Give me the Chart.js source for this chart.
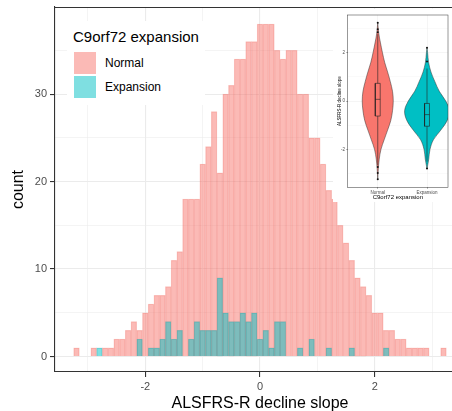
<!DOCTYPE html>
<html>
<head>
<meta charset="utf-8">
<script src="https://cdn.jsdelivr.net/npm/chart.js@4.4.1/dist/chart.umd.min.js"></script>
<style>
  html, body { margin: 0; padding: 0; background: #fff; }
  #wrap { position: relative; width: 452px; height: 411px; overflow: hidden; font-family: 'Liberation Sans', Arial, sans-serif; }
  #main { position: absolute; left: 0; top: 0; }
  #legend { position: absolute; left: 67px; top: 21px; width: 138px; height: 84px; background: #fff; }
  .lg { position: absolute; white-space: nowrap; color: #000; }
  .key { position: absolute; width: 22px; height: 22px; }
  #insetBox { position: absolute; left: 333px; top: 9px; width: 119px; height: 193px; background: #fff; }
</style>
</head>
<body>
<div id="wrap">
  <canvas id="main" width="465" height="420"></canvas>
  <div id="legend"></div>
  <div id="insetBox"><canvas id="inset" width="119" height="193"></canvas></div>
</div>
<script>
'use strict';

// histogram bins (binwidth 0.1), counts per group
const binCenters = [
  -3.2, -3.1, -3.0, -2.9, -2.8, -2.7, -2.6, -2.5, -2.4, -2.3,
  -2.2, -2.1, -2.0, -1.9, -1.8, -1.7, -1.6, -1.5, -1.4, -1.3,
  -1.2, -1.1, -1.0, -0.9, -0.8, -0.7, -0.6, -0.5, -0.4, -0.3,
  -0.2, -0.1, 0.0, 0.1, 0.2, 0.3, 0.4, 0.5, 0.6, 0.7,
  0.8, 0.9, 1.0, 1.1, 1.2, 1.3, 1.4, 1.5, 1.6, 1.7,
  1.8, 1.9, 2.0, 2.1, 2.2, 2.3, 2.4, 2.5, 2.6, 2.7,
  2.8, 2.9, 3.0, 3.1, 3.2
];
const normalCounts = [
  1, 0, 0, 1, 0, 1, 1, 2, 2, 3,
  4, 3, 5, 6, 7, 7, 8, 11, 12, 18,
  18, 18, 22, 24, 28, 21, 30, 31, 34, 34,
  36, 36, 38, 38, 38, 35, 34, 35, 35, 30,
  30, 25, 25, 22, 19, 18, 15, 13, 11, 9,
  8, 7, 5, 5, 3, 3, 2, 2, 1, 1,
  1, 1, 0, 0, 1
];
const expansionCounts = [
  0, 0, 0, 0, 1, 0, 0, 0, 0, 0,
  0, 2, 0, 1, 1, 2, 4, 2, 3, 0,
  2, 4, 3, 3, 3, 9, 5, 4, 4, 5,
  4, 5, 2, 3, 1, 4, 4, 0, 0, 1,
  0, 2, 0, 0, 1, 0, 0, 0, 1, 0,
  0, 0, 0, 0, 1, 0, 0, 0, 0, 0,
  0, 0, 0, 0, 0
];
const groupNames = ['Normal', 'Expansion'];
const xGridValues = [-3, -2, -1, 0, 1, 2, 3];
const xTickLabels = [-2, 0, 2];
const yGridValues = [0, 5, 10, 15, 20, 25, 30, 35];
const yTickLabels = [0, 10, 20, 30];

// inset violin: outline (value, half width) and box stats
const normalViolinY = [3.23, 2.8, 2.4, 2.0, 1.6, 1.2, 0.8, 0.4, 0.0, -0.4, -0.8, -1.2, -1.6, -2.0, -2.4, -2.8, -3.23];
const normalViolinW = [0, 0.02, 0.055, 0.095, 0.14, 0.2, 0.255, 0.3, 0.315, 0.3, 0.265, 0.2, 0.13, 0.065, 0.03, 0.012, 0];
const expansionViolinY = [2.2, 2.0, 1.6, 1.2, 0.8, 0.4, 0.0, -0.4, -0.8, -1.2, -1.6, -2.0, -2.4, -2.8];
const expansionViolinW = [0, 0.012, 0.032, 0.08, 0.16, 0.25, 0.38, 0.455, 0.41, 0.28, 0.13, 0.06, 0.035, 0];
const normalBox = [-2.65, -0.62, 0.07, 0.73, 2.76];   // lower whisker, q1, median, q3, upper whisker
const expansionBox = [-2.5, -1.04, -0.56, -0.1, 1.34];
const normalOutliers = [3.23, 2.96, 2.84, -2.72, -2.97, -3.23];
const expansionOutliers = [2.2, 1.63, -2.78];
const insetYGrid = [-3, -2, -1, 0, 1, 2, 3];
const insetYLabels = [-2, 0, 2];

const pink = '#F8766D';
const teal = '#00BFC4';

Chart.defaults.font.family = "'Liberation Sans', Arial, sans-serif";
Chart.defaults.animation = false;

// ---------- legend (html) ----------
const legend = document.getElementById('legend');
function addText(txt, left, cy, size) {
  const d = document.createElement('div');
  d.className = 'lg';
  d.textContent = txt;
  d.style.left = left + 'px';
  d.style.top = (cy - size * 0.6) + 'px';
  d.style.fontSize = size + 'px';
  d.style.lineHeight = (size * 1.2) + 'px';
  legend.appendChild(d);
}
function addKey(color, top) {
  const k = document.createElement('div');
  k.className = 'key';
  k.style.left = '7px';
  k.style.top = top + 'px';
  k.style.background = color;
  legend.appendChild(k);
}
addText('C9orf72 expansion', 6, 16, 15);
addKey('rgba(248,118,109,0.5)', 31);
addKey('rgba(0,191,196,0.5)', 54.5);
addText(groupNames[0], 38, 42.5, 12);
addText(groupNames[1], 38, 66.5, 12);

// ---------- main histogram ----------
const panelTop = {
  id: 'panelTop',
  afterDraw(chart) {
    const {ctx, chartArea} = chart;
    ctx.save();
    ctx.strokeStyle = '#333';
    ctx.lineWidth = 1.1;
    ctx.beginPath();
    ctx.moveTo(chartArea.left, chartArea.top + 0.5);
    ctx.lineTo(chartArea.right, chartArea.top + 0.5);
    ctx.stroke();
    ctx.restore();
  }
};

function toPoints(counts) {
  return binCenters.map((c, i) => ({x: c, y: counts[i]}));
}

new Chart(document.getElementById('main'), {
  type: 'bar',
  data: {
    datasets: [
      {
        label: groupNames[0],
        data: toPoints(normalCounts),
        backgroundColor: 'rgba(248,118,109,0.5)',
        borderColor: 'rgba(235,105,98,0.3)',
        borderWidth: 0.6,
        grouped: false,
        order: 2,
        barPercentage: 1,
        categoryPercentage: 1
      },
      {
        label: groupNames[1],
        data: toPoints(expansionCounts),
        backgroundColor: 'rgba(0,191,196,0.5)',
        borderColor: 'rgba(0,130,135,0.25)',
        borderWidth: 0.6,
        grouped: false,
        order: 1,
        barPercentage: 1,
        categoryPercentage: 1
      }
    ]
  },
  options: {
    responsive: false,
    layout: {padding: {top: 7, right: 0, left: 0, bottom: 0}},
    plugins: {legend: {display: false}, tooltip: {enabled: false}},
    scales: {
      x: {
        type: 'linear',
        min: -3.575,
        max: 3.575,
        offset: false,
        afterBuildTicks: (s) => { s.ticks = xGridValues.map(v => ({value: v})); },
        afterFit: (s) => { s.height = 48; s.paddingLeft = 0; s.paddingRight = 0; },
        grid: {
          offset: false,
          color: '#EBEBEB',
          lineWidth: (c) => xTickLabels.includes(c.tick && c.tick.value) ? 1.1 : 0.55,
          tickLength: 5,
          tickWidth: 1.1,
          tickColor: (c) => xTickLabels.includes(c.tick && c.tick.value) ? '#333' : 'rgba(0,0,0,0)'
        },
        border: {display: true, color: '#333', width: 1.1},
        ticks: {
          autoSkip: false,
          maxRotation: 0,
          padding: 3,
          color: '#4D4D4D',
          font: {size: 11},
          callback: (v) => xTickLabels.includes(v) ? String(v) : ''
        },
        title: {
          display: true,
          text: 'ALSFRS-R decline slope',
          color: '#000',
          font: {size: 16},
          padding: {top: 0, bottom: 6.4}
        }
      },
      y: {
        min: -1.77,
        max: 39.95,
        afterBuildTicks: (s) => { s.ticks = yGridValues.map(v => ({value: v})); },
        afterFit: (s) => { s.width = 55; s.paddingTop = 0; s.paddingBottom = 0; },
        grid: {
          color: '#EBEBEB',
          lineWidth: (c) => yTickLabels.includes(c.tick && c.tick.value) ? 1.1 : 0.55,
          tickLength: 5,
          tickWidth: 1.1,
          tickColor: (c) => yTickLabels.includes(c.tick && c.tick.value) ? '#333' : 'rgba(0,0,0,0)'
        },
        border: {display: true, color: '#333', width: 1.1},
        ticks: {
          autoSkip: false,
          padding: 3,
          color: '#4D4D4D',
          font: {size: 11},
          callback: (v) => yTickLabels.includes(v) ? String(v) : ''
        },
        title: {
          display: true,
          text: 'count',
          color: '#000',
          font: {size: 16},
          padding: {top: 9, bottom: 0}
        }
      }
    }
  },
  plugins: [panelTop]
});

// ---------- inset violin plot ----------
function violinShape(pos, ys, ws) {
  const pts = ys.map((y, i) => ({x: pos + ws[i], y: y}));
  for (let i = ys.length - 1; i >= 0; i--) {
    pts.push({x: pos - ws[i], y: ys[i]});
  }
  return pts;
}
function boxShape(pos, b) {
  const h = 0.05;
  return [
    {x: pos - h, y: b[1]}, {x: pos + h, y: b[1]}, {x: pos + h, y: b[3]},
    {x: pos - h, y: b[3]}, {x: pos - h, y: b[1]}, {x: null, y: null},
    {x: pos - h, y: b[2]}, {x: pos + h, y: b[2]}, {x: null, y: null},
    {x: pos, y: b[0]}, {x: pos, y: b[1]}, {x: null, y: null},
    {x: pos, y: b[3]}, {x: pos, y: b[4]}
  ];
}

const insetFrame = {
  id: 'insetFrame',
  afterDraw(chart) {
    const {ctx, chartArea} = chart;
    ctx.save();
    ctx.strokeStyle = '#333';
    ctx.lineWidth = 0.5;
    ctx.strokeRect(chartArea.left, chartArea.top, chartArea.right - chartArea.left, chartArea.bottom - chartArea.top);
    ctx.restore();
  }
};

const violinCommon = {showLine: true, fill: 'shape', borderColor: '#333', borderWidth: 0.5, pointRadius: 0, tension: 0.35, order: 3};
const boxCommon = {showLine: true, fill: false, borderColor: '#222', borderWidth: 0.6, pointRadius: 0, tension: 0, spanGaps: false, order: 2};
const outlierCommon = {showLine: false, pointRadius: 1, pointBackgroundColor: '#111', pointBorderWidth: 0, order: 1};

new Chart(document.getElementById('inset'), {
  type: 'scatter',
  data: {
    datasets: [
      Object.assign({data: violinShape(1, normalViolinY, normalViolinW), backgroundColor: pink}, violinCommon),
      Object.assign({data: violinShape(2, expansionViolinY, expansionViolinW), backgroundColor: teal}, violinCommon),
      Object.assign({data: boxShape(1, normalBox)}, boxCommon),
      Object.assign({data: boxShape(2, expansionBox)}, boxCommon),
      Object.assign({data: normalOutliers.map(v => ({x: 1, y: v}))}, outlierCommon),
      Object.assign({data: expansionOutliers.map(v => ({x: 2, y: v}))}, outlierCommon)
    ]
  },
  options: {
    responsive: false,
    layout: {padding: {top: 6, right: 1.5, left: 0, bottom: 0}},
    plugins: {legend: {display: false}, tooltip: {enabled: false}},
    scales: {
      x: {
        type: 'linear',
        min: 0.39,
        max: 2.426,
        afterBuildTicks: (s) => { s.ticks = [{value: 1}, {value: 2}]; },
        afterFit: (s) => { s.height = 14.7; s.paddingLeft = 0; s.paddingRight = 0; },
        grid: {color: '#EBEBEB', lineWidth: 0.5, tickLength: 1.5, tickColor: '#333', tickWidth: 0.4},
        border: {display: false},
        ticks: {
          autoSkip: false, maxRotation: 0, padding: 1, color: '#4D4D4D', font: {size: 4.5},
          callback: (v) => groupNames[v - 1] || ''
        },
        title: {display: true, text: 'C9orf72 expansion', color: '#000', font: {size: 6}, padding: {top: 0, bottom: 1.4}}
      },
      y: {
        min: -3.56,
        max: 3.55,
        afterBuildTicks: (s) => { s.ticks = insetYGrid.map(v => ({value: v})); },
        afterFit: (s) => { s.width = 14.7; s.paddingTop = 0; s.paddingBottom = 0; },
        grid: {
          color: '#EBEBEB',
          lineWidth: (c) => insetYLabels.includes(c.tick && c.tick.value) ? 0.5 : 0.25,
          tickLength: 1.5,
          tickWidth: 0.4,
          tickColor: (c) => insetYLabels.includes(c.tick && c.tick.value) ? '#333' : 'rgba(0,0,0,0)'
        },
        border: {display: false},
        ticks: {
          autoSkip: false, padding: 1.2, color: '#4D4D4D', font: {size: 4.5},
          callback: (v) => insetYLabels.includes(v) ? String(v) : ''
        },
        title: {display: true, text: 'ALSFRS-R decline slope', color: '#000', font: {size: 4.5}, padding: {top: 4.3, bottom: 0}}
      }
    }
  },
  plugins: [insetFrame]
});
</script>
</body>
</html>
